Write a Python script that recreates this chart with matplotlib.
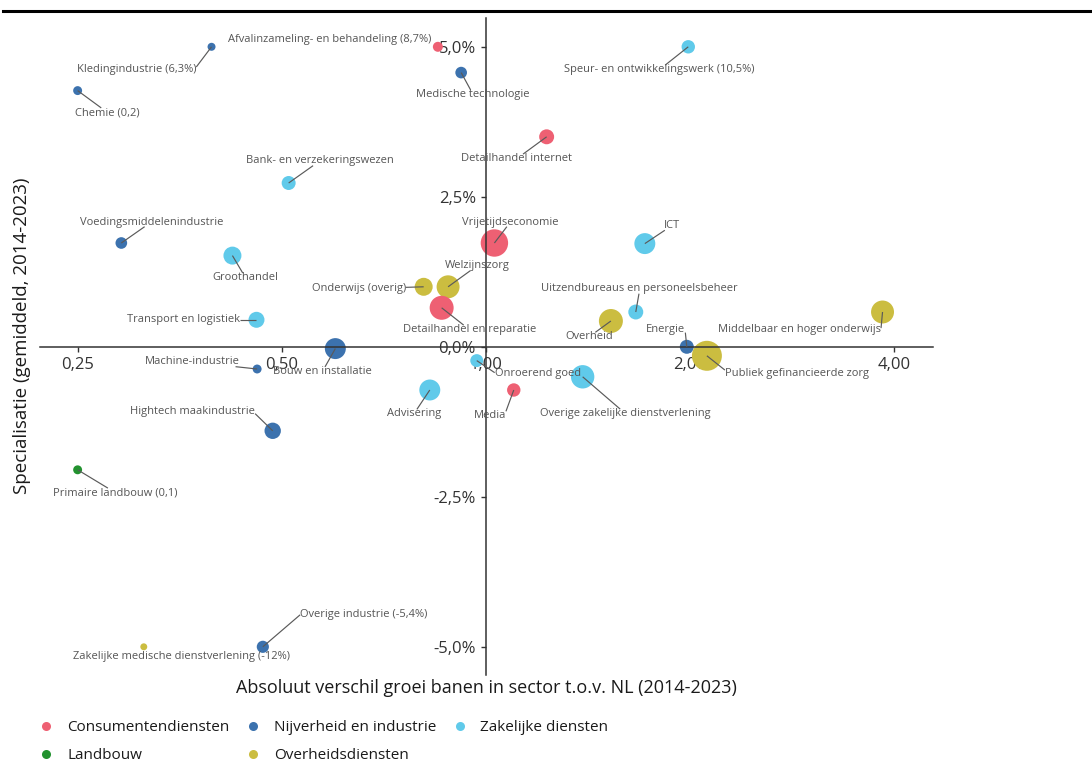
import numpy as np
import matplotlib
matplotlib.use("Agg")
import matplotlib.pyplot as plt
from matplotlib.lines import Line2D
from matplotlib.ticker import FixedLocator, NullLocator

plt.rcParams['font.family'] = ['Open Sans', 'DejaVu Sans']

# --- DATA ---
sectoren = [
    "Afvalinzameling- en behandeling (8,7%)", "Kledingindustrie (6,3%)", "Chemie (0,2)",
    "Medische technologie", "Speur- en ontwikkelingswerk (10,5%)", "Detailhandel internet",
    "Bank- en verzekeringswezen", "Voedingsmiddelenindustrie", "Groothandel",
    "Vrijetijdseconomie", "ICT", "Welzijnszorg", "Onderwijs (overig)",
    "Detailhandel en reparatie", "Transport en logistiek",
    "Uitzendbureaus en personeelsbeheer", "Overheid", "Energie",
    "Middelbaar en hoger onderwijs", "Publiek gefinancieerde zorg", "Bouw en installatie",
    "Machine-industrie", "Onroerend goed", "Advisering", "Media",
    "Overige zakelijke dienstverlening", "Hightech maakindustrie",
    "Primaire landbouw (0,1)", "Zakelijke medische dienstverlening (-12%)",
    "Overige industrie (-5,4%)",
]
groep = [
    "Consumentendiensten", "Nijverheid en industrie", "Nijverheid en industrie",
    "Nijverheid en industrie", "Zakelijke diensten", "Consumentendiensten",
    "Zakelijke diensten", "Nijverheid en industrie", "Zakelijke diensten",
    "Consumentendiensten", "Zakelijke diensten", "Overheidsdiensten", "Overheidsdiensten",
    "Consumentendiensten", "Zakelijke diensten",
    "Zakelijke diensten", "Overheidsdiensten", "Nijverheid en industrie",
    "Overheidsdiensten", "Overheidsdiensten", "Nijverheid en industrie",
    "Nijverheid en industrie", "Zakelijke diensten", "Zakelijke diensten", "Consumentendiensten",
    "Zakelijke diensten", "Nijverheid en industrie",
    "Landbouw", "Overheidsdiensten",
    "Nijverheid en industrie",
]
# relatieve groei banen t.o.v. NL (log-schaal), begrensd op 0,25
groei = [0.85, 0.394, 0.25, 0.92, 1.99, 1.23, 0.512, 0.29, 0.423, 1.03, 1.717, 0.88, 0.81,
         0.861, 0.459, 1.665, 1.53, 1.98, 3.85, 2.12, 0.60, 0.46, 0.97, 0.827, 1.10,
         1.39, 0.485, 0.25, 0.313, 0.469]
# specialisatie (%), begrensd op -5 / 5
specialisatie = [5.0, 5.0, 4.27, 4.57, 5.0, 3.5, 2.73, 1.73, 1.52, 1.73, 1.72, 1.0, 1.0,
                 0.65, 0.45, 0.58, 0.43, 0.0, 0.58, -0.15, -0.03, -0.37, -0.23, -0.72, -0.72,
                 -0.5, -1.4, -2.05, -5.0, -5.0]
# omvang sector (relatief)
omvang = [25, 16, 20, 34, 45, 56, 49, 34, 81, 188, 110, 132, 81, 144, 64, 56, 144, 49,
          132, 225, 110, 20, 42, 110, 45, 137, 67, 20, 12, 37]

groepen = ["Consumentendiensten", "Landbouw", "Nijverheid en industrie",
           "Overheidsdiensten", "Zakelijke diensten"]
kleuren = {
    "Consumentendiensten": "#EE6073",
    "Nijverheid en industrie": "#3C72AE",
    "Zakelijke diensten": "#60CAEA",
    "Landbouw": "#22922F",
    "Overheidsdiensten": "#CBBD40",
}

# label offsets (pixels, x rechts / y omhoog)
label_offset = [
    (-108, 7), (-75, -23), (30, -22), (12, -22), (-29, -23), (-30, -22),
    (31, 22), (30, 21), (13, -22), (16, 21), (27, 18), (29, 21), (-65, -2),
    (28, -22), (-73, 0), (4, 23), (-22, -16), (-21, 17), (-83, -18), (90, -18),
    (-13, -23), (-65, 7), (61, -13), (-16, -24), (-24, -26), (43, -37),
    (-80, 19), (38, -23), (38, -10), (101, 32),
]
# aanhechtpunt lijn op label (fractie van labelvak), anders richting midden
aanhechting = {
    "Kledingindustrie (6,3%)": (1.0, 0.8),
    "Middelbaar en hoger onderwijs": (1.0, 0.7),
    "Publiek gefinancieerde zorg": (0.0, 0.9),
    "Overige industrie (-5,4%)": (0.0, 0.5),
    "Hightech maakindustrie": (1.0, 0.3),
    "Energie": (1.0, 0.2),
    "Media": (1.0, 1.0),
    "Onroerend goed": (0.0, 0.6),
}

# --- FIGUUR ---
W, H = 1092, 765
fig = plt.figure(figsize=(W / 100, H / 100), dpi=100)
ax = fig.add_axes([40 / W, 1 - 675 / H, (933 - 40) / W, (675 - 18) / H])
ax.set_xscale('log', base=2)
ax.set_xlim(0.22, 4.57)
ax.set_ylim(-5.47, 5.48)

for side in ['top', 'right']:
    ax.spines[side].set_visible(False)
ax.spines['left'].set_position(('data', 1.0))
ax.spines['bottom'].set_position(('data', 0.0))
for side in ['left', 'bottom']:
    ax.spines[side].set_color('#333333')
    ax.spines[side].set_linewidth(1.1)

ax.xaxis.set_major_locator(FixedLocator([0.25, 0.5, 1, 2, 4]))
ax.xaxis.set_minor_locator(NullLocator())
ax.set_xticklabels(['0,25', '0,50', '1,00', '2,00', '4,00'])
ax.set_yticks([-5, -2.5, 0, 2.5, 5])
ax.set_yticklabels(['-5,0%', '-2,5%', '0,0%', '2,5%', '5,0%'])
ax.tick_params(axis='both', length=3.5, width=1, color='#333333',
               labelsize=12, labelcolor='#333333', direction='out')
ax.patch.set_visible(False)

kleur_punt = [kleuren[g] for g in groep]
ax.scatter(groei, specialisatie, s=np.array(omvang) * 2.07, c=kleur_punt,
           edgecolors='none', zorder=2, clip_on=False)

labels = []
for i, naam in enumerate(sectoren):
    dx, dy = label_offset[i]
    t = ax.annotate(naam, xy=(groei[i], specialisatie[i]),
                    xytext=(dx * 0.72, dy * 0.72), textcoords='offset points',
                    ha='center', va='center', fontsize=8, color='#555555',
                    zorder=4, annotation_clip=False)
    labels.append(t)

# verbindingslijnen (punt -> rand van het label)
fig.canvas.draw()
renderer = fig.canvas.get_renderer()
inv = ax.transData.inverted()
for i, t in enumerate(labels):
    bb = t.get_window_extent(renderer).expanded(1.0, 0.85)
    px, py = ax.transData.transform((groei[i], specialisatie[i]))
    nx_ = min(max(px, bb.x0), bb.x1)
    ny_ = min(max(py, bb.y0), bb.y1)
    if np.hypot(nx_ - px, ny_ - py) < 8:
        continue
    naam = sectoren[i]
    if naam in aanhechting:
        rx, ry = aanhechting[naam]
        ex, ey = bb.x0 + rx * bb.width, bb.y0 + ry * bb.height
    else:
        cx, cy = (bb.x0 + bb.x1) / 2, (bb.y0 + bb.y1) / 2
        vx, vy = px - cx, py - cy
        f = min(bb.width / 2 / abs(vx) if vx else np.inf,
                bb.height / 2 / abs(vy) if vy else np.inf)
        ex, ey = cx + vx * f, cy + vy * f
    (x0, y0), (x1, y1) = inv.transform([(px, py), (ex, ey)])
    ax.plot([x0, x1], [y0, y1], color='#5a5a5a', lw=0.85, zorder=3,
            solid_capstyle='butt', clip_on=False)

fig.text(486 / W, 1 - 688 / H, 'Absoluut verschil groei banen in sector t.o.v. NL (2014-2023)',
         ha='center', va='center', fontsize=13, color='#1a1a1a')
fig.text(22 / W, 1 - 336 / H, 'Specialisatie (gemiddeld, 2014-2023)',
         ha='center', va='center', rotation=90, fontsize=13.5, color='#1a1a1a')

# dikke lijn bovenaan
fig.add_artist(Line2D([3 / W, 1], [1 - 11 / H, 1 - 11 / H], color='black', lw=2.2,
                      transform=fig.transFigure))

handles = [Line2D([], [], marker='o', linestyle='none', markersize=6.5,
                  markerfacecolor=kleuren[g], markeredgecolor='none') for g in groepen]
fig.legend(handles, groepen, loc='upper left', bbox_to_anchor=(35 / W, 1 - 720 / H),
           ncol=3, frameon=False, fontsize=11, handlelength=1.5, handletextpad=0.6,
           columnspacing=0.8, labelspacing=0.85, borderpad=0, borderaxespad=0,
           labelcolor='#1a1a1a')

fig.savefig('out.png', dpi=100)
